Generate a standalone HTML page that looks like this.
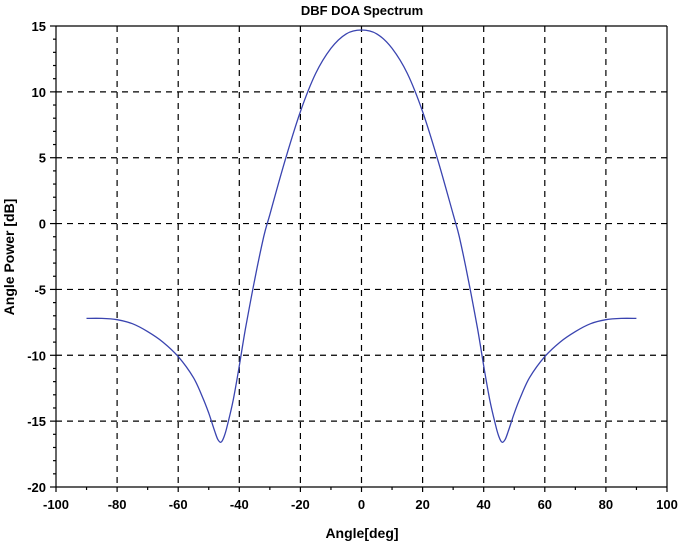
<!DOCTYPE html>
<html><head><meta charset="utf-8"><style>
body{margin:0;background:#fff}
svg text{font-family:"Liberation Sans",Arial,sans-serif;font-weight:bold;fill:#000}
</style></head><body>
<svg width="680" height="546" xmlns="http://www.w3.org/2000/svg">
<g id="grid"></g>
<g id="axes"></g>
<path id="curve" fill="none" stroke="#3a44b0" stroke-width="1.3"/>
<text x="362" y="15" text-anchor="middle" font-size="13">DBF DOA Spectrum</text>
<text x="362" y="538" text-anchor="middle" font-size="14">Angle[deg]</text>
<text transform="translate(14,257) rotate(-90)" text-anchor="middle" font-size="14">Angle Power [dB]</text>
</svg>
<script>
const angles=[-90,-85,-80,-75,-70,-65,-60,-55,-52,-50,-48,-47,-46,-45,-44,-42,-40,-38,-35,-32,-30,-25,-20,-15,-10,-5,0,5,10,15,20,25,30,32,35,38,40,42,44,45,46,47,48,50,52,55,60,65,70,75,80,85,90];
const power=[-7.2,-7.2,-7.3,-7.6,-8.2,-9.0,-10.1,-11.7,-13.2,-14.4,-15.8,-16.4,-16.6,-16.2,-15.4,-13.4,-10.8,-8.0,-4.3,-1.0,0.7,4.8,8.5,11.4,13.3,14.4,14.7,14.4,13.3,11.4,8.5,4.8,0.7,-1.0,-4.3,-8.0,-10.8,-13.4,-15.4,-16.2,-16.6,-16.4,-15.8,-14.4,-13.2,-11.7,-10.1,-9.0,-8.2,-7.6,-7.3,-7.2,-7.2];
const xTicks=[-100,-80,-60,-40,-20,0,20,40,60,80,100];
const yTicks=[15,10,5,0,-5,-10,-15,-20];
const L=56,R=667,T=26,B=487;
const xs=a=>L+(a+100)/200*(R-L);
const ys=v=>T+(15-v)/35*(B-T);
const NS="http://www.w3.org/2000/svg";
const grid=document.getElementById('grid'),axes=document.getElementById('axes'),svg=document.querySelector('svg');
function ln(p,x1,y1,x2,y2,dash,name){const l=document.createElementNS(NS,'line');l.setAttribute('x1',x1);l.setAttribute('y1',y1);l.setAttribute('x2',x2);l.setAttribute('y2',y2);l.setAttribute('stroke','#000');l.setAttribute('stroke-width','1.2');if(dash)l.setAttribute('stroke-dasharray','6,5');


p.appendChild(l);}
function tx(x,y,s,anc,name){const t=document.createElementNS(NS,'text');t.setAttribute('x',x);t.setAttribute('y',y);t.setAttribute('text-anchor',anc);t.setAttribute('font-size','13');t.textContent=s;


svg.appendChild(t);}
xTicks.forEach(a=>{const x=xs(a);if(a>-100&&a<100)ln(grid,x,T,x,B,true,'x-gridline');ln(axes,x,B,x,B+5,false,'x-tick');tx(x,509,String(a),'middle','x-tick-label');});
for(let a=-90;a<100;a+=20){ln(axes,xs(a),B,xs(a),B+3,false,'x-minor-tick');}
yTicks.forEach(v=>{const y=ys(v);if(v<15&&v>-20)ln(grid,L,y,R,y,true,'y-gridline');ln(axes,L-6,y,L,y,false,'y-tick');tx(L-10,y+5,String(v),'end','y-tick-label');});
for(let v=-19;v<15;v++){if(v%5)ln(axes,L-3,ys(v),L,ys(v),false,'y-minor-tick');}
ln(axes,L,T,R,T,false,'frame-top');ln(axes,R,T,R,B,false,'frame-right');ln(axes,L,T,L,B,false,'y-axis');ln(axes,L,B,R,B,false,'x-axis');
const P=angles.map((a,i)=>[xs(a),ys(power[i])]);
let d='M'+P[0][0].toFixed(1)+','+P[0][1].toFixed(1);
for(let i=0;i<P.length-1;i++){const p0=P[Math.max(0,i-1)],p1=P[i],p2=P[i+1],p3=P[Math.min(P.length-1,i+2)];
const c1=[p1[0]+(p2[0]-p0[0])/6,p1[1]+(p2[1]-p0[1])/6],c2=[p2[0]-(p3[0]-p1[0])/6,p2[1]-(p3[1]-p1[1])/6];
d+=' C'+c1.map(n=>n.toFixed(1)).join(',')+' '+c2.map(n=>n.toFixed(1)).join(',')+' '+p2.map(n=>n.toFixed(1)).join(',');}
document.getElementById('curve').setAttribute('d',d);
</script>
</body></html>
